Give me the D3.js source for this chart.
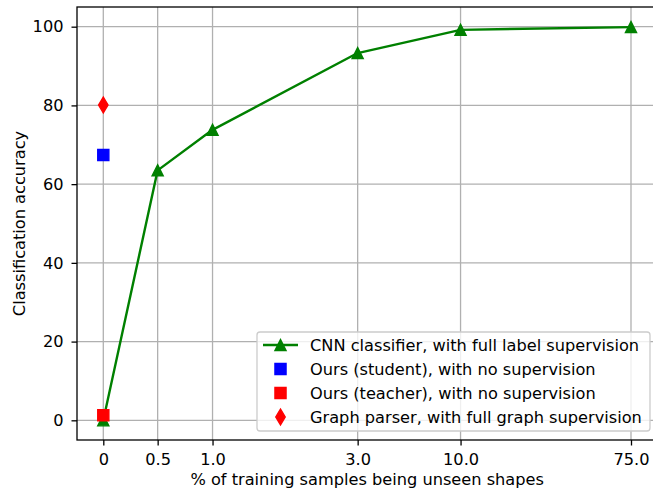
<!DOCTYPE html>
<html><head><meta charset="utf-8">
<script src="https://cdn.jsdelivr.net/npm/d3@7"></script>
<style>
body{margin:0;background:#fff;}
svg{display:block;font-family:"DejaVu Sans",sans-serif;}
</style></head>
<body>
<svg id="chart" width="653" height="489"></svg>
<script>
// ---- data ----
const xTicks = [0, 0.5, 1.0, 3.0, 10.0, 75.0];
const xTickLabels = ["0", "0.5", "1.0", "3.0", "10.0", "75.0"];
const yTicks = [0, 20, 40, 60, 80, 100];
const cnnX = [0, 0.5, 1.0, 3.0, 10.0, 75.0];
const cnnY = [0, 63.5, 73.8, 93.3, 99.2, 99.9];
const studentX = [0]; const studentY = [67.4];
const teacherX = [0]; const teacherY = [1.3];
const parserX = [0]; const parserY = [80.1];
const legendLabels = [
  "CNN classifier, with full label supervision",
  "Ours (student), with no supervision",
  "Ours (teacher), with no supervision",
  "Graph parser, with full graph supervision"
];

// ---- layout ----
const svg = d3.select("#chart");
const L = 77, R = 657.4, T = 7, B = 440;
const innerL = 103.3, innerR = 631;
const FS = 16.2;
const frac = [0, 0.103, 0.207, 0.482, 0.677, 1];
const x = d3.scaleLinear()
  .domain(xTicks)
  .range(frac.map(f => innerL + f * (innerR - innerL)));
const y = d3.scaleLinear().domain([-5, 105]).range([B, T]);

const gridColor = "#b0b0b0";
const g = svg.append("g");

// grid
g.selectAll(".gx").data(xTicks).join("line")
  .attr("x1", d => x(d)).attr("x2", d => x(d))
  .attr("y1", T).attr("y2", B)
  .attr("stroke", gridColor).attr("stroke-width", 1.3);
g.selectAll(".gy").data(yTicks).join("line")
  .attr("y1", d => y(d)).attr("y2", d => y(d))
  .attr("x1", L).attr("x2", R)
  .attr("stroke", gridColor).attr("stroke-width", 1.3);

// axes
const xAxis = d3.axisBottom(x).tickValues(xTicks)
  .tickFormat((d, i) => xTickLabels[i]).tickSize(5.5).tickPadding(6);
const yAxis = d3.axisLeft(y).tickValues(yTicks).tickSize(5.5).tickPadding(8);
const gx = svg.append("g").attr("transform", `translate(0,${B})`).call(xAxis);
const gy = svg.append("g").attr("transform", `translate(${L},0)`).call(yAxis);
[gx, gy].forEach(a => {
  a.select(".domain").remove();
  a.selectAll("line").attr("stroke", "#000").attr("stroke-width", 1.3);
  a.selectAll("text").attr("font-size", FS).attr("fill", "#000")
    .attr("font-family", "DejaVu Sans");
});
gx.selectAll("text").attr("dy", null).attr("y", 25);

// spines
svg.append("rect").attr("x", L).attr("y", T).attr("width", R - L).attr("height", B - T)
  .attr("fill", "none").attr("stroke", "#000").attr("stroke-width", 1.3);

// axis labels
svg.append("text").attr("x", (L + R) / 2).attr("y", 485)
  .attr("text-anchor", "middle").attr("font-size", FS)
  .text("% of training samples being unseen shapes");
svg.append("text").attr("transform", `translate(25,${(T + B) / 2}) rotate(-90)`)
  .attr("text-anchor", "middle").attr("font-size", FS)
  .text("Classification accuracy");

// markers
const ms = 11.1;
const tri = s => `M0,${-s/2}L${-s/2},${s/2}L${s/2},${s/2}Z`;
const sq = s => `M${-s/2},${-s/2}h${s}v${s}h${-s}Z`;
const dia = s => { const h = s * 0.707, w = h * 0.6; return `M0,${-h}L${w},0L0,${h}L${-w},0Z`; };

const plot = svg.append("g");
// CNN line
const pts = cnnX.map((d, i) => [d, cnnY[i]]);
plot.append("path").datum(pts)
  .attr("d", d3.line().x(d => x(d[0])).y(d => y(d[1])))
  .attr("fill", "none").attr("stroke", "green").attr("stroke-width", 2.4)
  .attr("stroke-linejoin", "round");
plot.selectAll(".tri").data(pts).join("path")
  .attr("transform", d => `translate(${x(d[0])},${y(d[1])})`)
  .attr("d", tri(ms)).attr("fill", "green").attr("stroke", "green").attr("stroke-width", 1.4);

function scatter(xs, ys, color, shape) {
  plot.selectAll(null).data(xs.map((d, i) => [d, ys[i]])).join("path")
    .attr("transform", d => `translate(${x(d[0])},${y(d[1])})`)
    .attr("d", shape).attr("fill", color).attr("stroke", color).attr("stroke-width", 1.4);
}
scatter(studentX, studentY, "blue", sq(ms));
scatter(teacherX, teacherY, "red", sq(ms));
scatter(parserX, parserY, "red", dia(ms));

// legend
const lg = svg.append("g");
lg.append("rect").attr("x", 257).attr("y", 332).attr("width", 393).attr("height", 99)
  .attr("rx", 3).attr("fill", "#fff").attr("fill-opacity", 0.8)
  .attr("stroke", "#cccccc").attr("stroke-width", 1.3);
const rowY = i => 345 + i * 24;
lg.append("line").attr("x1", 263).attr("x2", 298).attr("y1", rowY(0)).attr("y2", rowY(0))
  .attr("stroke", "green").attr("stroke-width", 2.4);
const handles = [
  {shape: tri(ms), color: "green"},
  {shape: sq(ms), color: "blue"},
  {shape: sq(ms), color: "red"},
  {shape: dia(ms), color: "red"}
];
handles.forEach((h, i) => {
  lg.append("path").attr("transform", `translate(280.5,${rowY(i)})`)
    .attr("d", h.shape).attr("fill", h.color).attr("stroke", h.color).attr("stroke-width", 1.4);
});
lg.selectAll(".lt").data(legendLabels).join("text")
  .attr("x", 310).attr("y", (d, i) => rowY(i)).attr("dy", "0.36em")
  .attr("font-size", FS).text(d => d);
</script>
</body></html>
